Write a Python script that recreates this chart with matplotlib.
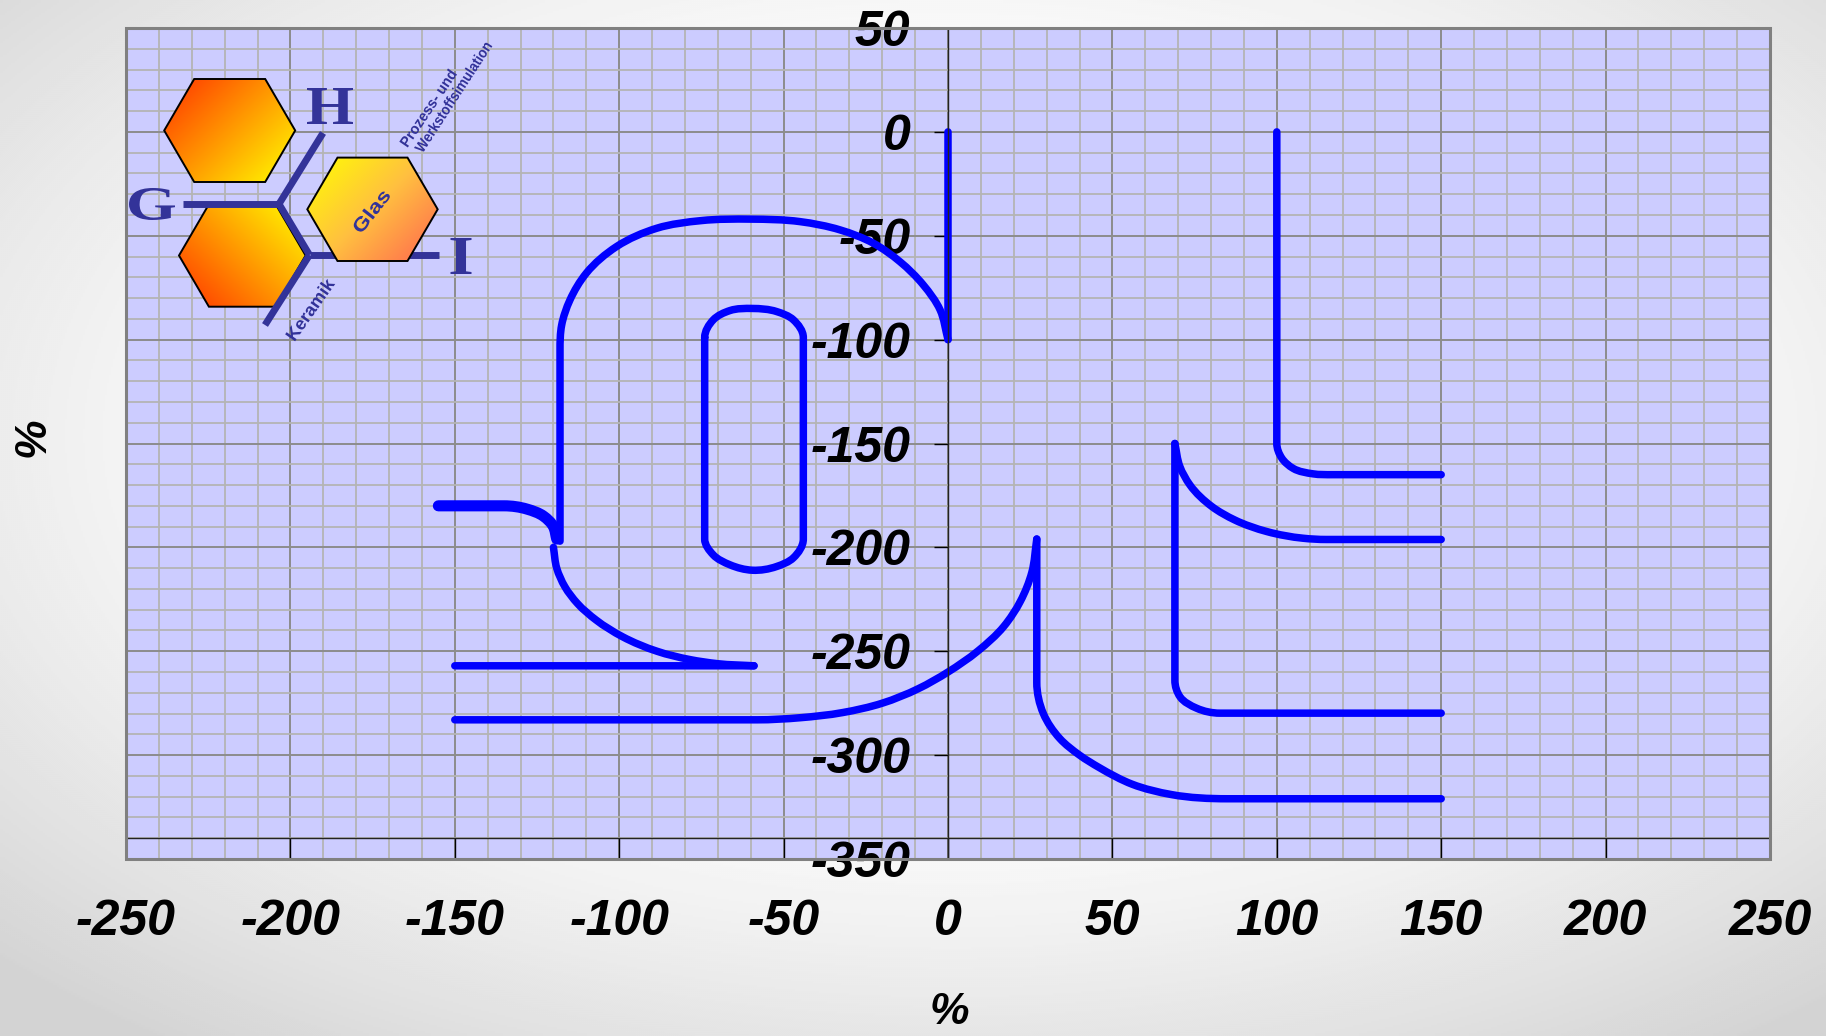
import numpy as np
import matplotlib
matplotlib.use("Agg")
import matplotlib.pyplot as plt
from matplotlib.path import Path
from matplotlib.patches import PathPatch, Polygon, Rectangle
from matplotlib.colors import LinearSegmentedColormap
from matplotlib.font_manager import FontProperties
from matplotlib.textpath import TextPath
from matplotlib.transforms import Affine2D

plt.rcParams["axes.unicode_minus"] = False

W, H, DPI = 1826, 1036, 100

# ---------------------------------------------------------------- axes setup
x_ticks = [-250, -200, -150, -100, -50, 0, 50, 100, 150, 200, 250]
x_tick_labels = ["-250", "-200", "-150", "-100", "-50", "0", "50", "100", "150", "200", "250"]
y_ticks = [50, 0, -50, -100, -150, -200, -250, -300, -350]
y_tick_labels = ["50", "0", "-50", "-100", "-150", "-200", "-250", "-300", "-350"]
x_label = "%"
y_label = "%"

# ---------------------------------------------------------------- curves (x, y)
stem_x = [0, 0]
stem_y = [0, -100]

arch_x = [0, -2.4, -7.5, -14.6, -22.7, -32.8, -45, -60, -75, -88.6, -100.8, -110, -115, -117.5, -118, -118]
arch_y = [-100, -85.7, -73.7, -62.5, -53.6, -47.2, -43.2, -42, -42.7, -46.4, -55.2, -68, -81, -93, -105, -197]

hook_x = [-155, -135, -128, -123, -120, -119]
hook_y = [-180, -180, -181.6, -185, -190, -196]

sweep_x = [-120, -119, -116.5, -112.7, -107, -99, -88.5, -78.5, -70, -59]
sweep_y = [-200, -210, -219, -227, -235, -243, -250, -254, -256, -257]

shelf_x = [-150, -59]
shelf_y = [-257, -257]

base_x = [-150, -58, -45, -32, -20, -9, 0, 9, 17, 22, 25.5, 27]
base_y = [-283, -283, -282, -279.5, -275, -268, -260, -250, -238, -226, -212, -196]

drop_x = [27, 27, 29, 34, 40, 46, 56, 68, 85, 150]
drop_y = [-196, -265, -280, -292, -300, -306, -314, -319, -321, -321]

pillar_x = [100, 100, 101.5, 105, 111, 117, 150]
pillar_y = [0, -150, -157, -162, -164.6, -165, -165]

fan_x = [69, 70.5, 73.6, 80.3, 87.2, 97, 108, 115, 150]
fan_y = [-150, -161, -170, -180.4, -186.8, -192.4, -195.6, -196.2, -196.2]

step_x = [69, 69, 70.6, 75.6, 82.7, 150]
step_y = [-150, -264, -272, -277.4, -279.8, -279.8]

loop_x = [-74, -71.4, -66.3, -59.5, -52.1, -47, -44, -44, -47, -52.1, -59.5, -66.3, -71.4, -74, -74]
loop_y = [-99, -90.5, -86, -85, -86.5, -90.5, -99, -196, -205, -209.2, -211, -208.4, -203.6, -196, -99]

thin_strokes = [(stem_x, stem_y), (arch_x, arch_y), (sweep_x, sweep_y), (shelf_x, shelf_y),
                (base_x, base_y), (drop_x, drop_y), (pillar_x, pillar_y), (fan_x, fan_y),
                (step_x, step_y), (loop_x, loop_y)]
thick_strokes = [(hook_x, hook_y)]

LINE_BLUE = "#0000FF"
LOGO_BLUE = "#333399"
SANS = ["Liberation Sans", "Arial", "DejaVu Sans"]
LABEL_STYLE = dict(family=SANS, fontweight="bold", fontstyle="italic")
TICK_SIZE = 36


def smooth_path(ax, xs, ys, straight_ratio=2.5):
    """Smoothed line through the points as cubic Bezier segments (screen space).

    Long straight runs keep their direction at both ends, so rounded corners
    join them tangentially.
    """
    P = ax.transData.transform(np.column_stack([xs, ys]).astype(float))
    closed = len(P) > 3 and np.allclose(P[0], P[-1])
    if closed:
        P = P[:-1]
    n = len(P)
    seg = (np.roll(P, -1, axis=0) - P) if closed else np.diff(P, axis=0)
    L = np.hypot(*seg.T)
    U = seg / L[:, None]
    nseg = len(seg)
    T = np.zeros_like(P)
    for i in range(n):
        inc = (i - 1) % nseg if (closed or i > 0) else None
        out = i if (closed or i < n - 1) else None
        if inc is None:
            T[i] = U[out]
            continue
        if out is None:
            T[i] = U[inc]
            continue
        lp, ln = L[inc], L[out]
        if lp > straight_ratio * ln:
            t = U[inc]
        elif ln > straight_ratio * lp:
            t = U[out]
        else:
            t = ln * U[inc] + lp * U[out]
        T[i] = t / np.hypot(*t)
    verts = [P[0]]
    codes = [Path.MOVETO]
    for k in range(nseg):
        i, j = k, (k + 1) % n
        verts += [P[i] + T[i] * L[k] / 3.0, P[j] - T[j] * L[k] / 3.0, P[j]]
        codes += [Path.CURVE4] * 3
    data = ax.transData.inverted().transform(np.array(verts))
    return Path(data, codes)


fig = plt.figure(figsize=(W / DPI, H / DPI), dpi=DPI)

# ---------------------------------------------------------------- soft grey backdrop
bg = fig.add_axes([0, 0, 1, 1])
bg.set_zorder(-1)
gy, gx = np.mgrid[0:H:2, 0:W:2]
rx = (gx - 0.52 * W) / (0.5 * W)
ry = (gy - 0.42 * H) / (0.5 * H)
r = np.sqrt(rx ** 2 + ry ** 2)
shade = 1 - 0.17 * np.clip((r - 0.55) / 0.9, 0, 1) ** 1.4
bg.imshow(shade, cmap="gray", vmin=0, vmax=1, extent=(0, W, H, 0), aspect="auto",
          interpolation="bilinear")
bg.set_xlim(0, W)
bg.set_ylim(H, 0)
bg.axis("off")

# ---------------------------------------------------------------- main plot
left, right, top, bottom = 126, 1770, 28, 859
ax = fig.add_axes([left / W, 1 - bottom / H, (right - left) / W, (bottom - top) / H])
ax.set_facecolor("#CCCCFF")
ax.set_xlim(-250, 250)
ax.set_ylim(-350, 50)

# axis lines cross inside the plot (moving spines resets the ticks, so do it first)
ax.spines["left"].set_position(("data", 0))
ax.spines["bottom"].set_position(("data", -340))
for s in ("left", "bottom"):
    ax.spines[s].set_color("#222222")
    ax.spines[s].set_linewidth(1.0)
ax.spines["top"].set_visible(False)
ax.spines["right"].set_visible(False)

ax.set_xticks(np.arange(-250, 251, 10), minor=True)
ax.set_yticks(np.arange(-350, 51, 10), minor=True)
ax.tick_params(which="minor", length=0)
ax.tick_params(axis="x", which="major", direction="out", length=14.4, width=1.0,
               color="black", pad=29, labelsize=TICK_SIZE)
ax.tick_params(axis="y", which="major", direction="out", length=10, width=1.0,
               color="black", pad=17, labelsize=TICK_SIZE)
ax.set_xticks(x_ticks)
ax.set_xticklabels(x_tick_labels, fontsize=TICK_SIZE, **LABEL_STYLE)
ax.set_yticks(y_ticks)
ax.set_yticklabels(y_tick_labels, fontsize=TICK_SIZE, **LABEL_STYLE)
for lab in ax.get_xticklabels() + ax.get_yticklabels():
    lab.set_clip_on(False)

ax.grid(which="minor", color="#B4B4B4", lw=1.3)
ax.grid(which="major", color="#8C8C8C", lw=1.4)
ax.set_axisbelow(True)

ax.add_patch(Rectangle((0, 0), 1, 1, transform=ax.transAxes, fill=False,
                       ec="#808080", lw=2.2, zorder=3, clip_on=False))

for xs, ys in thin_strokes:
    ax.add_patch(PathPatch(smooth_path(ax, xs, ys), fill=False, ec=LINE_BLUE, lw=5.4,
                           capstyle="round", joinstyle="round", zorder=2))
for xs, ys in thick_strokes:
    ax.add_patch(PathPatch(smooth_path(ax, xs, ys), fill=False, ec=LINE_BLUE, lw=8.0,
                           capstyle="round", joinstyle="round", zorder=2))

fig.text(949 / W, 1 - 1013 / H, x_label, ha="center", va="center", fontsize=32, **LABEL_STYLE)
fig.text(33 / W, 1 - 437 / H, y_label, ha="center", va="center", rotation=90,
         fontsize=32, **LABEL_STYLE)

# ---------------------------------------------------------------- GHI emblem
lg = fig.add_axes([0, 0, 1, 1])
lg.set_zorder(5)
lg.patch.set_alpha(0)
lg.axis("off")

warm = LinearSegmentedColormap.from_list("warm", ["#FF3300", "#FF9900", "#FFFF00"])
glass = LinearSegmentedColormap.from_list("glass", ["#FFFF00", "#FFC040", "#FF6650"])


def hex_verts(cx, cy, hw, a, hh):
    return [(cx - hw, cy), (cx - a, cy - hh), (cx + a, cy - hh),
            (cx + hw, cy), (cx + a, cy + hh), (cx - a, cy + hh)]


def gradient_hex(verts, direction, cmap, z):
    vx = np.array([v[0] for v in verts])
    vy = np.array([v[1] for v in verts])
    x0, x1, y0, y1 = vx.min(), vx.max(), vy.min(), vy.max()
    X, Y = np.meshgrid(np.linspace(x0, x1, 160), np.linspace(y0, y1, 160))
    u = np.array(direction, float)
    u /= np.hypot(*u)
    t = (X - vx.mean()) * u[0] + (Y - vy.mean()) * u[1]
    t = (t - t.min()) / (t.max() - t.min())
    im = lg.imshow(t, extent=(x0, x1, y1, y0), origin="upper", cmap=cmap, vmin=0, vmax=1,
                   interpolation="bilinear", zorder=z, aspect="auto")
    poly = Polygon(verts, closed=True, fc="none", ec="black", lw=1.4, zorder=z + 0.1)
    lg.add_patch(poly)
    im.set_clip_path(poly)


def emblem_text(s, cx, cy, width, height, angle=0, family="Liberation Sans", z=4):
    """Lettering fitted to a given ink box, rotated about its centre (pixel space, y down)."""
    tp = TextPath((0, 0), s, size=40, prop=FontProperties(family=family, weight="bold"))
    bb = tp.get_extents()
    tr = (Affine2D()
          .translate(-(bb.x0 + bb.x1) / 2, -(bb.y0 + bb.y1) / 2)
          .scale(width / bb.width, -height / bb.height)
          .rotate_deg(-angle)
          .translate(cx, cy))
    lg.add_patch(PathPatch(tr.transform_path(tp), fc=LOGO_BLUE, ec="none", zorder=z))


gradient_hex(hex_verts(229.7, 130.5, 65.5, 35.5, 51.5), (1, 1), warm, 1)
gradient_hex(hex_verts(242.3, 255.5, 63.3, 33.4, 51.2), (1, -1), warm, 1)

branches = [((183, 204), (279, 204)), ((279, 204), (323, 133)), ((279, 204), (309.5, 255)),
            ((309.5, 255), (439, 255)), ((309.5, 255), (265, 325))]
for (xa, ya), (xb, yb) in branches:
    lg.plot([xa, xb], [ya, yb], color=LOGO_BLUE, lw=5, solid_capstyle="butt", zorder=2)

gradient_hex(hex_verts(372.5, 209.3, 65.2, 35, 51.7), (1, 1), glass, 3)

emblem_text("G", 152, 204, 46, 32, family="Liberation Serif")
emblem_text("H", 330, 106, 46, 36, family="Liberation Serif")
emblem_text("I", 461, 256, 21, 36, family="Liberation Serif")

emblem_text("Glas", 371, 211, 48, 14, angle=52)
emblem_text("Keramik", 310, 309, 70, 13, angle=55)
emblem_text("Prozess- und", 428, 108, 88, 11, angle=56)
emblem_text("Werkstoffsimulation", 453, 97, 128, 11, angle=57)

lg.set_xlim(0, W)
lg.set_ylim(H, 0)

fig.savefig("out.png", dpi=DPI)
